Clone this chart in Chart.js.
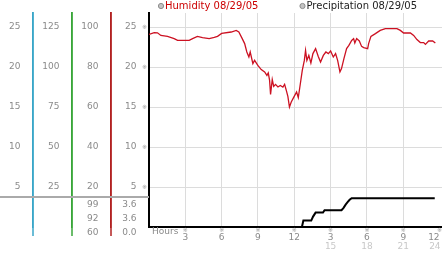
<!DOCTYPE html>
<html>
<head>
<meta charset="utf-8">
<script src="https://cdn.jsdelivr.net/npm/chart.js@4/dist/chart.umd.min.js"></script>
<style>
  html, body { margin: 0; padding: 0; background: #fff; }
</style>
</head>
<body>
<canvas id="chartClima" width="442" height="253"></canvas>
<script>
// ── Datos ──
var humHours = [0, 0.43, 0.7, 0.98, 1.53, 2.08, 2.36, 3.32, 3.6, 4.0,
    4.42, 4.97, 5.39, 5.66, 6.0, 6.79, 7.2, 7.42, 7.7, 7.9,
    8.08, 8.25, 8.36, 8.58, 8.72, 8.99, 9.27, 9.55, 9.74, 9.85,
    9.96, 10.04, 10.18, 10.3, 10.45, 10.65, 10.84, 11.06, 11.2, 11.34,
    11.47, 11.6, 11.75, 11.94, 12.19, 12.33, 12.46, 12.66, 12.83, 12.93,
    13.04, 13.2, 13.37, 13.54, 13.76, 13.98, 14.17, 14.4, 14.61, 14.81,
    15.0, 15.22, 15.41, 15.58, 15.77, 15.9, 16.1, 16.32, 16.51, 16.74,
    16.9, 17.0, 17.15, 17.37, 17.56, 17.73, 18.06, 18.14, 18.33, 18.7,
    19.1, 19.52, 19.93, 20.48, 20.76, 21.03, 21.59, 21.86, 22.13, 22.41,
    22.69, 22.83, 23.1, 23.43, 23.65];
var humValues = [96.3, 97.2, 97.1, 95.8, 95.3, 94.2, 93.3, 93.3, 94.2, 95.3,
    94.7, 94.2, 94.8, 95.3, 96.8, 97.5, 98.3, 97.5, 94.2, 91.7,
    87.5, 85, 87.5, 81.7, 83.3, 80.8, 78.7, 77.5, 75.8, 77,
    73.3, 66.3, 73.7, 70.3, 71.3, 70, 70.8, 70, 71.3, 68.3,
    65.3, 60, 62.5, 64.7, 67.5, 64.7, 70, 78.3, 83.3, 88.3,
    83.3, 85.8, 82, 86.7, 89.2, 85.3, 82.5, 85.8, 87.5, 86.7,
    88, 85, 86.7, 83.3, 77.5, 79.2, 84.2, 89.2, 90.8, 93.3,
    94.2, 92, 94.2, 93, 90.3, 89.7, 89.2, 91.7, 95.3, 96.7,
    98.3, 99.2, 99.2, 99.2, 98.3, 97, 97, 95.8, 93.7, 92.2,
    92.2, 91.3, 93, 93, 92];

var precipHours  = [4.7, 12.63, 12.75, 13.4, 13.55, 13.76, 14.37, 14.5, 15.9, 16.07, 16.24, 16.4, 16.57, 16.74, 23.6];
var precipValues = [0, 0, 0.8, 0.8, 1.3, 1.8, 1.8, 2.1, 2.1, 2.4, 2.8, 3.1, 3.4, 3.6, 3.6];

var hourLabels      = ['3', '6', '9', '12', '3', '6', '9', '12'];
var lowerHourLabels = ['15', '18', '21', '24'];
var humidityStats   = ['99', '92', '60'];
var precipStats     = ['3.6', '3.6', '0.0'];

var legendItems = [
    { text: 'Humidity 08/29/05',      color: '#cc0000' },
    { text: 'Precipitation 08/29/05', color: '#222222' }
];

var GRAY  = '#8a8a8a';
var FONT  = 'DejaVu Sans';

function toPoints(xs, ys) {
    return xs.map(function(x, i) { return { x: x, y: ys[i] }; });
}
function hideZero(v) { return v === 0 ? '' : v; }

// ancho fijo y sin relleno automático
function fixWidth(w) {
    return function(s) { s.width = w; s.paddingTop = 0; s.paddingBottom = 0; };
}

function leftAxis(weight, max, step, width, color, withGrid) {
    return {
        position: 'left', weight: weight, min: 0, max: max,
        ticks: { stepSize: step, includeBounds: false, color: GRAY, padding: 12.5,
                 font: { family: FONT, size: 9 }, callback: hideZero },
        grid: withGrid ? {
            drawTicks: false,
            color: function(c) { return c.tick && c.tick.value === 0 ? 'rgba(0,0,0,0)' : '#dcdcdc'; }
        } : { display: false, drawTicks: false },
        border: { color: color, width: withGrid ? 2 : 1.5 },
        afterFit: fixWidth(width)
    };
}

// ── Plugin: leyenda, columnas de resumen y marcas ──
var extras = {
    id: 'extras',
    afterDraw: function(chart) {
        var ctx = chart.ctx, area = chart.chartArea, sc = chart.scales;
        ctx.save();

        // prolongar líneas de columnas
        [['yA', '#3aa6c8'], ['yB', '#3aa63a'], ['yHum', '#b22222']].forEach(function(p) {
            var s = sc[p[0]];
            ctx.strokeStyle = p[1];
            ctx.lineWidth = 1.5;
            ctx.beginPath();
            ctx.moveTo(s.right, area.top - 1);
            ctx.lineTo(s.right, area.bottom + 9);
            ctx.stroke();
        });

        // separador gris
        ctx.fillStyle = '#aaaaaa';
        ctx.fillRect(0, area.bottom - 31, area.left, 2);

        // valores max / prom / min
        ctx.font = '9px ' + FONT;
        ctx.fillStyle = GRAY;
        ctx.textAlign = 'right';
        ctx.textBaseline = 'middle';
        humidityStats.forEach(function(t, i) { ctx.fillText(t, sc.yHum.right - 12.5, area.bottom - 22.5 + i * 14.3); });
        precipStats.forEach(function(t, i)   { ctx.fillText(t, sc.y.right - 12.5,    area.bottom - 22.5 + i * 14.3); });

        // marcas ※
        ctx.font = '6px ' + FONT;
        ctx.fillStyle = '#999999';
        ctx.textAlign = 'center';
        sc.y.ticks.forEach(function(t) {
            if (t.value > 0) ctx.fillText('\u203B', area.left - 4.5, sc.y.getPixelForValue(t.value));
        });
        sc.x.ticks.forEach(function(t) {
            if (t.value > 0) ctx.fillText('\u203B', sc.x.getPixelForValue(t.value), area.bottom + 3.5);
        });

        // "Hours" y segunda fila de horas
        ctx.font = '9px ' + FONT;
        ctx.fillStyle = GRAY;
        ctx.textAlign = 'left';
        ctx.fillText('Hours', area.left + 3, area.bottom + 4.5);
        ctx.fillStyle = '#c8c8c8';
        var k = 0;
        sc.x.ticks.forEach(function(t) {
            if (t.value > 12 && k < lowerHourLabels.length) {
                var last = k === lowerHourLabels.length - 1;
                var px = sc.x.getPixelForValue(t.value);
                ctx.textAlign = last ? 'right' : 'center';
                ctx.fillText(lowerHourLabels[k++], last ? px + 1 : px, area.bottom + 19.5);
            }
        });

        // leyenda
        var lx = [161, 302.5];
        ctx.font = '10px ' + FONT;
        ctx.textAlign = 'left';
        legendItems.forEach(function(it, i) {
            ctx.beginPath();
            ctx.arc(lx[i], 6, 2.6, 0, Math.PI * 2);
            ctx.fillStyle = '#c4c4c4';
            ctx.fill();
            ctx.strokeStyle = '#8c8c8c';
            ctx.lineWidth = 1;
            ctx.stroke();
            ctx.fillStyle = it.color;
            ctx.fillText(it.text, lx[i] + 4, 6.5);
        });
        ctx.restore();
    }
};

new Chart(document.getElementById('chartClima').getContext('2d'), {
    type: 'line',
    data: {
        datasets: [{
            label: 'Humidity',
            data: toPoints(humHours, humValues),
            yAxisID: 'yHum',
            borderColor: '#cc1122',
            borderWidth: 1.3,
            pointRadius: 0,
            tension: 0,
            fill: false
        }, {
            label: 'Precipitation',
            data: toPoints(precipHours, precipValues),
            yAxisID: 'y',
            borderColor: '#000000',
            borderWidth: 2,
            pointRadius: 0,
            tension: 0,
            fill: false
        }]
    },
    options: {
        responsive: false,
        animation: false,
        layout: { padding: { top: 13, left: 0, right: 0, bottom: 0 }, autoPadding: false },
        plugins: { legend: { display: false }, tooltip: { enabled: false } },
        scales: {
            x: {
                type: 'linear', position: 'bottom', min: 0, max: 24.2,
                ticks: {
                    stepSize: 3, includeBounds: false, autoSkip: false, maxRotation: 0, align: 'inner',
                    color: GRAY, padding: 5, font: { family: FONT, size: 9 },
                    callback: function(v) { var i = v / 3 - 1; return i >= 0 ? hourLabels[i] : ''; }
                },
                grid: {
                    drawTicks: false,
                    color: function(c) { return c.tick && (c.tick.value === 0 || c.tick.value >= 24) ? 'rgba(0,0,0,0)' : '#dcdcdc'; }
                },
                border: { color: '#000000', width: 2 },
                afterFit: function(s) { s.height = 26; s.paddingLeft = 0; s.paddingRight = 0; }
            },
            yA:   leftAxis(4, 26.75, 5, 33, '#3aa6c8', false),
            yB:   leftAxis(3, 133.75, 25, 39, '#3aa63a', false),
            yHum: leftAxis(2, 107, 20, 39, '#b22222', false),
            y:    leftAxis(1, 26.75, 5, 38, '#000000', true)
        }
    },
    plugins: [extras]
});
</script>
</body>
</html>
